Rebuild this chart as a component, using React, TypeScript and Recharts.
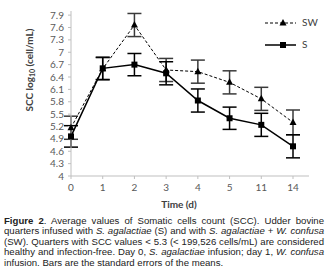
import React from 'react';
import { LineChart, Line, XAxis, YAxis, ErrorBar } from 'recharts';

const days = ['0', '1', '2', '3', '4', '5', '11', '14'];
const swMean = [5.17, 6.6, 7.66, 6.57, 6.53, 6.27, 5.87, 5.3];
const swErr = [0.28, 0.27, 0.28, 0.28, 0.28, 0.28, 0.28, 0.3];
const sMean = [4.96, 6.61, 6.7, 6.49, 5.83, 5.4, 5.24, 4.72];
const sErr = [0.26, 0.27, 0.27, 0.28, 0.28, 0.27, 0.28, 0.28];
const yTicks = [4, 4.3, 4.6, 4.9, 5.2, 5.5, 5.8, 6.1, 6.4, 6.7, 7, 7.3, 7.6, 7.9];
const seriesNames = ['SW', 'S'];

const data = days.map((d, i) => ({
  day: d,
  sw: swMean[i],
  swErr: swErr[i],
  s: sMean[i],
  sErr: sErr[i],
}));

const FONT = 'Lato, "Liberation Sans", sans-serif';

const Triangle = (props: any) => {
  const { cx, cy } = props;
  if (cx == null || cy == null) return null;
  return <polygon points={`${cx},${cy - 4} ${cx - 3.5},${cy + 2.5} ${cx + 3.5},${cy + 2.5}`} fill="#000" />;
};

const Square = (props: any) => {
  const { cx, cy } = props;
  if (cx == null || cy == null) return null;
  return <rect x={cx - 3} y={cy - 3} width={6} height={6} fill="#000" />;
};

const YLabel = () => (
  <text
    x={30}
    y={70}
    transform="rotate(-90 30 70)"
    textAnchor="middle"
    dominantBaseline="middle"
    fontFamily={FONT}
    fontSize={10}
    fontWeight="bold"
    fill="#404040"
  >
    SCC  log<tspan fontSize={7} dy={3}>10</tspan>
    <tspan dy={-3}> (cell/mL)</tspan>
  </text>
);

const XLabel = () => (
  <text x={179} y={205} textAnchor="middle" dominantBaseline="middle" fontFamily={FONT} fontSize={10} fontWeight="bold" fill="#404040">
    Time (d)
  </text>
);

const LegendBox = () => (
  <svg width={65} height={45} style={{ position: 'absolute', left: 260, top: 10 }}>
    <line x1={5} y1={13} x2={36} y2={13} stroke="#000" strokeWidth={1} strokeDasharray="3 2" />
    <polygon points="23,9 19.5,15.5 26.5,15.5" fill="#000" />
    <text x={42} y={13} dominantBaseline="middle" fontFamily={FONT} fontSize={10} fill="#404040">{seriesNames[0]}</text>
    <line x1={5} y1={35} x2={36} y2={35} stroke="#000" strokeWidth={1.5} />
    <rect x={20} y={32} width={6} height={6} fill="#000" />
    <text x={42} y={35} dominantBaseline="middle" fontFamily={FONT} fontSize={10} fill="#404040">{seriesNames[1]}</text>
  </svg>
);

const captionLines: React.ReactNode[] = [
  <><b>Figure 2</b>. Average values of Somatic cells count (SCC). Udder bovine</>,
  <>quarters infused with <i>S. agalactiae</i> (S) and with <i>S. agalactiae</i> + <i>W. confusa</i></>,
  <>(SW). Quarters with SCC values &lt; 5.3 (&lt; 199,526 cells/mL) are considered</>,
  <>healthy and infection-free. Day 0, <i>S. agalactiae</i> infusion; day 1, <i>W. confusa</i></>,
  <>infusion. Bars are the standard errors of the means.</>,
];

export default function App() {
  return (
    <div style={{ position: 'fixed', left: 0, top: 0, width: 327, height: 280, background: '#fff', overflow: 'hidden' }}>
      <LineChart width={327} height={215} data={data} margin={{ top: 11, right: 18, bottom: 0, left: 0 }}>
        <XAxis
          dataKey="day"
          height={39}
          interval={0}
          padding={{ left: 0, right: 16 }}
          axisLine={{ stroke: '#bfbfbf' }}
          tickLine={{ stroke: '#bfbfbf' }}
          tickSize={3}
          tickMargin={5}
          tick={{ fontFamily: FONT, fontSize: 10, fill: '#595959' }}
          label={<XLabel />}
        />
        <YAxis
          type="number"
          domain={[4, 8]}
          ticks={yTicks}
          interval={0}
          width={71}
          axisLine={{ stroke: '#bfbfbf' }}
          tickLine={{ stroke: '#bfbfbf' }}
          tickSize={3}
          tickMargin={4}
          tick={{ fontFamily: FONT, fontSize: 10, fill: '#595959' }}
          tickFormatter={(v: number) => String(Number(v.toFixed(1)))}
          label={<YLabel />}
        />
        <Line
          dataKey="sw"
          name={seriesNames[0]}
          stroke="#000"
          strokeWidth={1}
          strokeDasharray="3 2"
          dot={<Triangle />}
          activeDot={false}
          isAnimationActive={false}
        >
          <ErrorBar dataKey="swErr" width={7} stroke="#3a3a3a" strokeWidth={1.5} isAnimationActive={false} />
        </Line>
        <Line
          dataKey="s"
          name={seriesNames[1]}
          stroke="#000"
          strokeWidth={1.5}
          dot={<Square />}
          activeDot={false}
          isAnimationActive={false}
        >
          <ErrorBar dataKey="sErr" width={7} stroke="#000" strokeWidth={1.5} isAnimationActive={false} />
        </Line>
      </LineChart>
      <LegendBox />
      <div
        style={{
          position: 'absolute',
          left: 4,
          top: 216,
          width: 320,
          fontFamily: '"Liberation Sans", Arial, sans-serif',
          fontSize: 9.6,
          lineHeight: '10.4px',
          color: '#222',
        }}
      >
        {captionLines.map((ln, i) => (
          <div
            key={i}
            style={{
              whiteSpace: 'nowrap',
              textAlign: 'justify',
              textAlignLast: i < captionLines.length - 1 ? 'justify' : 'left',
            }}
          >
            {ln}
          </div>
        ))}
      </div>
    </div>
  );
}
